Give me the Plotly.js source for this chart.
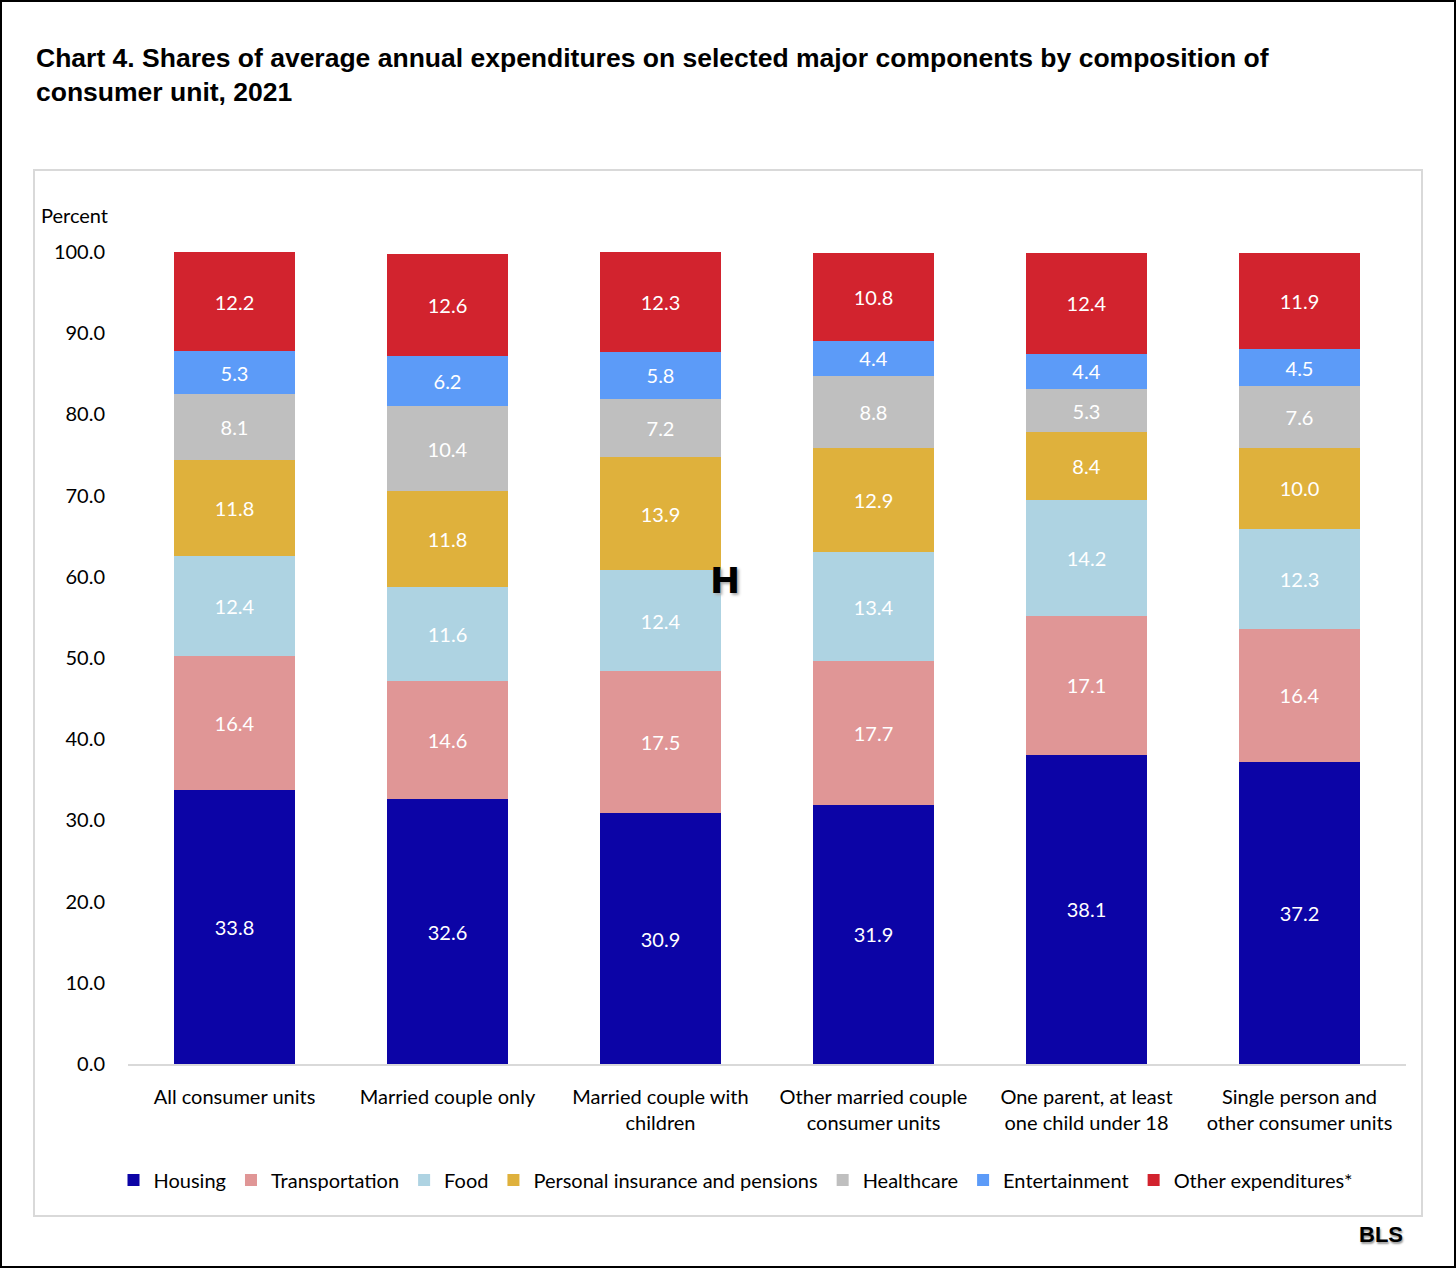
<!DOCTYPE html>
<html>
<head>
<meta charset="utf-8">
<script src="https://cdn.plot.ly/plotly-3.0.1.min.js"></script>
<style>
html,body{margin:0;padding:0;background:#fff;}
#chart{width:1456px;height:1268px;}
</style>
</head>
<body>
<div id="chart"></div>
<script>
const categories = [
  "All consumer units",
  "Married couple only",
  "Married couple with<br>children",
  "Other married couple<br>consumer units",
  "One parent, at least<br>one child under 18",
  "Single person and<br>other consumer units"
];
const housing        = [33.8, 32.6, 30.9, 31.9, 38.1, 37.2];
const transportation = [16.4, 14.6, 17.5, 17.7, 17.1, 16.4];
const food           = [12.4, 11.6, 12.4, 13.4, 14.2, 12.3];
const insurance      = [11.8, 11.8, 13.9, 12.9, 8.4, 10.0];
const healthcare     = [8.1, 10.4, 7.2, 8.8, 5.3, 7.6];
const entertainment  = [5.3, 6.2, 5.8, 4.4, 4.4, 4.5];
const other          = [12.2, 12.6, 12.3, 10.8, 12.4, 11.9];
const yTicks = [0, 10, 20, 30, 40, 50, 60, 70, 80, 90, 100];

const seriesNames = ["Housing", "Transportation", "Food", "Personal insurance and pensions", "Healthcare", "Entertainment", "Other expenditures*"];
const seriesData = [housing, transportation, food, insurance, healthcare, entertainment, other];
const colors = ["#0c04a6", "#e09696", "#aed3e2", "#dfb13c", "#bfbfbf", "#5c9bf8", "#d2232e"];

const FONT = "Lato, 'Open Sans', sans-serif";

const traces = seriesNames.map((name, i) => ({
  type: "bar",
  name: name,
  x: categories,
  y: seriesData[i],
  marker: {color: colors[i], line: {width: 0}},
  text: seriesData[i].map(v => v.toFixed(1)),
  textposition: "inside",
  insidetextanchor: "middle",
  textangle: 0,
  textfont: {family: FONT, size: 20, color: "#ffffff"},
  hoverinfo: "none"
}));

// plot area in pixels: x 128..1406, y 252..1064
const L = 128, R = 1406, T = 252, B = 1064;
const px = x => (x - L) / (R - L);
const py = y => (B - y) / (B - T);

const layout = {
  width: 1456,
  height: 1268,
  margin: {l: L, r: 1456 - R, t: T, b: 1268 - B, pad: 0},
  paper_bgcolor: "#ffffff",
  plot_bgcolor: "#ffffff",
  barmode: "stack",
  bargap: 0.43,
  showlegend: true,
  font: {family: FONT, size: 20, color: "#000000"},
  title: {
    text: "Chart 4. Shares of average annual expenditures on selected major components by composition of<br>consumer unit, 2021",
    xref: "container", yref: "container",
    x: 36 / 1456, xanchor: "left",
    y: 1 - 67 / 1268, yanchor: "top",
    font: {family: "'Liberation Sans Narrow', 'Liberation Sans', Arial, sans-serif", size: 26.5, color: "#000000", weight: "bold"}
  },
  xaxis: {
    type: "category",
    showgrid: false,
    zeroline: false,
    showline: true,
    linecolor: "#d9d9d9",
    linewidth: 1.5,
    ticks: "",
    tickfont: {family: FONT, size: 20, color: "#000000"},
    ticklabelstandoff: 14,
    fixedrange: true
  },
  yaxis: {
    range: [0, 100],
    tickvals: yTicks,
    ticktext: yTicks.map(v => v.toFixed(1)),
    showgrid: false,
    zeroline: false,
    showline: false,
    ticks: "",
    ticklabelstandoff: 22,
    tickfont: {family: FONT, size: 20, color: "#000000"},
    fixedrange: true
  },
  legend: {
    orientation: "h",
    x: px(736), xanchor: "center",
    y: py(1180), yanchor: "middle",
    font: {family: FONT, size: 20, color: "#000000"},
    itemwidth: 30,
    tracegroupgap: 0,
    traceorder: "normal"
  },
  shapes: [
    {type: "rect", xref: "paper", yref: "paper",
     x0: px(34), x1: px(1422), y0: py(170), y1: py(1216),
     line: {color: "#d9d9d9", width: 2}, fillcolor: "rgba(0,0,0,0)", layer: "below"},
    {type: "rect", xref: "paper", yref: "paper",
     x0: px(1), x1: px(1455), y0: py(1), y1: py(1267),
     line: {color: "#000000", width: 2}, fillcolor: "rgba(0,0,0,0)", layer: "above"}
  ],
  annotations: [
    {text: "Percent", xref: "paper", yref: "paper", x: px(39), y: py(215),
     xanchor: "left", yanchor: "middle", showarrow: false,
     font: {family: FONT, size: 20, color: "#000000"}},
    {text: "<b>BLS</b>", xref: "paper", yref: "paper", x: px(1405), y: py(1234),
     xanchor: "right", yanchor: "middle", showarrow: false,
     font: {family: "'Liberation Sans', Arial, sans-serif", size: 22, color: "#000000", shadow: "1px 2px 2px #999"}},
    {text: "<b>H</b>", xref: "paper", yref: "paper", x: px(725), y: py(580),
     xanchor: "center", yanchor: "middle", showarrow: false,
     font: {family: "'DejaVu Sans', sans-serif", size: 36, color: "#000000", shadow: "2px 2px 3px #aaa"}}
  ]
};

Plotly.newPlot("chart", traces, layout, {displayModeBar: false, staticPlot: true});
</script>
</body>
</html>
